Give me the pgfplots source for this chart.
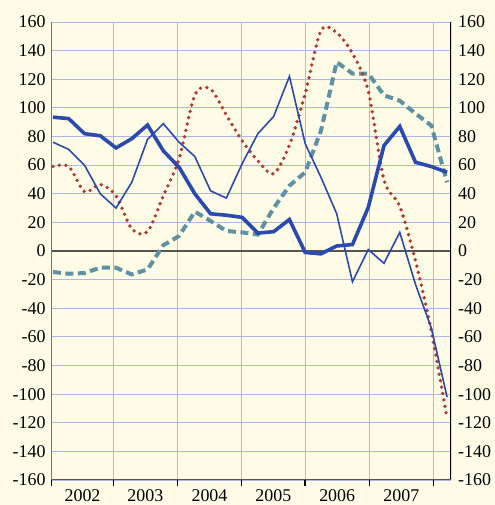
\documentclass[border=0pt]{standalone}
\usepackage{fontspec}
\setmainfont{Liberation Serif}
\usepackage{pgfplots}
\usepackage{pgfplotstable}
\pgfplotsset{compat=1.18}
\definecolor{bgc}{RGB}{254,252,230}
\definecolor{gridc}{RGB}{172,182,232}
\definecolor{bl}{RGB}{42,74,176}
\definecolor{rd}{RGB}{178,58,46}
\definecolor{tl}{RGB}{95,145,165}
\definecolor{zeroc}{RGB}{85,85,85}

\pgfplotstableread{
i thick thin red teal
0 93.5 76 59 -14.7
1 92.5 71 59 -15.9
2 82 60 41.5 -15.4
3 80.5 40 46.5 -11.7
4 72 30 38.5 -11.7
5 78.5 48 15.5 -16.4
6 88 78 13.5 -12.9
7 70 89 38.6 4
8 58.5 76 64.5 10.5
9 40 66 109 27.5
10 26 42 113 21
11 25 37 95 14
12 23.5 61 77 13
13 12.5 82 63 11.5
14 13.5 94 54 30
15 22 122 74 45.6
16 -1 75 110 55
17 -2 51.5 154 84
18 3.5 26 152.5 132
19 4.5 -21.5 138 124
20 30.4 1 111.8 124
21 73.7 -8.6 49.6 108.8
22 87 13 31.3 105
23 62 -23.4 -7 96
24 59 -53.8 -56 87.7
25 55 -102 -117 48
}\data

\pgfplotsset{
  common/.style={
    at={(0,0)}, anchor=south west, scale only axis,
    width=399.3bp, height=458bp,
    xmin=-0.08, xmax=25.25, ymin=-160, ymax=160,
    ytick={-160,-140,...,160},
    /pgf/number format/assume math mode=true,
    tick label style={font=\fontsize{18}{20}\selectfont},
    ytick style={draw=none},
    axis line style={draw=none},
  }
}

\begin{document}
\begin{tikzpicture}
\fill[bgc] (-51.7bp,-25bp) rectangle (443.3bp,480bp);
\begin{axis}[common,
  xtick={-0.08,3.83,7.89,11.97,15.99,20.07,24.13},
  xticklabels={2002,2003,2004,2005,2006,2007},
  x tick label as interval,
  xtick pos=bottom, ytick pos=left,
  tick align=outside,
  major tick length=6bp,
  x tick style={black, line width=1.1bp},
  yticklabel style={inner sep=0pt, xshift=0bp},
  xticklabel style={inner sep=0pt, yshift=-3bp},
  grid=major,
  major grid style={gridc, line width=0.9bp},
]
\draw[zeroc, line width=1.6bp] (axis cs:-0.08,0) -- (axis cs:25.25,0);
\draw[black, line width=1.2bp] (rel axis cs:0,0) -- (rel axis cs:0,1);
\draw[black, line width=1.2bp] (rel axis cs:1,0) -- (rel axis cs:1,1);
\draw[zeroc, line width=1.4bp] (rel axis cs:0,0) -- (rel axis cs:1,0);
\addplot[tl, line width=4bp, dash pattern=on 8bp off 4.5bp] table[x=i, y=teal] {\data};
\addplot[rd, line width=3.8bp, line cap=round, dash pattern=on 0bp off 6.5bp, smooth] table[x=i, y=red] {\data};
\addplot[bl, line width=1.6bp] table[x=i, y=thin] {\data};
\addplot[bl, line width=3.6bp] table[x=i, y=thick] {\data};
\end{axis}
\begin{axis}[common,
  axis x line=none,
  axis y line*=right,
  ytick pos=right,
  yticklabel pos=right,
  tick align=outside,
  major tick length=6bp,
  yticklabel style={inner sep=0pt, xshift=1bp, anchor=west},
]
\end{axis}
\pgfresetboundingbox
\useasboundingbox (-51.7bp,-25bp) rectangle (443.3bp,480bp);
\end{tikzpicture}
\end{document}
